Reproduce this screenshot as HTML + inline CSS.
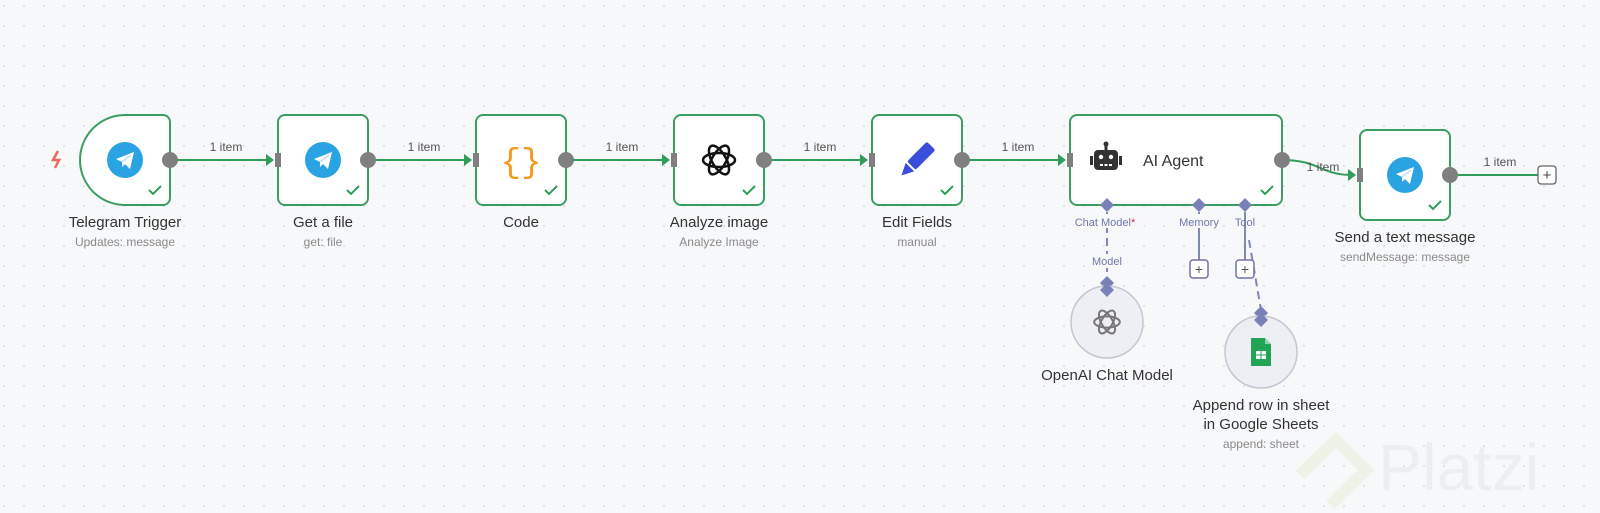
<!DOCTYPE html>
<html><head><meta charset="utf-8"><style>
html,body{margin:0;padding:0;width:1600px;height:513px;overflow:hidden;background:#f7f8fa}
svg{display:block;font-family:"Liberation Sans",sans-serif}
</style></head><body>
<svg width="1600" height="513" viewBox="0 0 1600 513" xmlns="http://www.w3.org/2000/svg">
<defs>
<pattern id="dots" width="20" height="20" patternUnits="userSpaceOnUse" x="3" y="5"><circle cx="1" cy="1" r="0.9" fill="#cfd2d8"/></pattern>
<g id="tg"><circle r="18" fill="#2aa3e2"/><path d="M-9,-1 L9,-8 L5,9 L0,4 L-3,7 L-3,2 Z" fill="#fff"/><path d="M-3,2 L6,-5" stroke="#bfe0f3" stroke-width="1.5"/></g>
<g id="chk"><path d="M-6,0 L-2,4 L6,-4" fill="none" stroke="#2f9e5b" stroke-width="2"/></g>
<g id="oai" fill="none" stroke-width="2.5"><ellipse rx="16" ry="7"/><ellipse rx="16" ry="7" transform="rotate(60)"/><ellipse rx="16" ry="7" transform="rotate(120)"/></g>
</defs>
<rect width="1600" height="513" fill="url(#dots)"/>

<!-- Platzi watermark -->
<g>
<path d="M1300,475 L1336,440 L1366,470 L1330,505" fill="none" stroke="#eef3e8" stroke-width="12"/>
<text x="1378" y="490" font-size="66" fill="#eceef1">Platzi</text>
</g>

<!-- connections -->
<g stroke="#2f9e5b" stroke-width="2" fill="none">
<path d="M170,160 H270"/><path d="M368,160 H468"/><path d="M566,160 H666"/><path d="M764,160 H864"/><path d="M962,160 H1062"/>
<path d="M1282,160 C1320,160 1320,175 1352,175"/><path d="M1450,175 H1538"/>
</g>
<g fill="#2f9e5b">
<path d="M266,154 L274,160 L266,166Z"/><path d="M464,154 L472,160 L464,166Z"/><path d="M662,154 L670,160 L662,166Z"/><path d="M860,154 L868,160 L860,166Z"/><path d="M1058,154 L1066,160 L1058,166Z"/><path d="M1348,169 L1356,175 L1348,181Z"/>
</g>
<g font-size="12" fill="#555" text-anchor="middle">
<text x="226" y="151">1 item</text><text x="424" y="151">1 item</text><text x="622" y="151">1 item</text><text x="820" y="151">1 item</text><text x="1018" y="151">1 item</text><text x="1323" y="171">1 item</text><text x="1500" y="166">1 item</text>
</g>
<rect x="1538" y="166" width="18" height="18" rx="3" fill="#fff" stroke="#666" stroke-width="1.3"/>
<text x="1547" y="180" font-size="15" text-anchor="middle" fill="#444">+</text>

<!-- nodes -->
<g fill="#fff" stroke="#3a9d63" stroke-width="2">
<path d="M125,115 H163 a7,7 0 0 1 7,7 V198 a7,7 0 0 1 -7,7 H125 a45,45 0 0 1 -45,-45 a45,45 0 0 1 45,-45Z"/>
<rect x="278" y="115" width="90" height="90" rx="7"/>
<rect x="476" y="115" width="90" height="90" rx="7"/>
<rect x="674" y="115" width="90" height="90" rx="7"/>
<rect x="872" y="115" width="90" height="90" rx="7"/>
<rect x="1070" y="115" width="212" height="90" rx="7"/>
<rect x="1360" y="130" width="90" height="90" rx="7"/>
</g>
<!-- handles -->
<g fill="#808080">
<circle cx="170" cy="160" r="8"/><circle cx="368" cy="160" r="8"/><circle cx="566" cy="160" r="8"/><circle cx="764" cy="160" r="8"/><circle cx="962" cy="160" r="8"/><circle cx="1282" cy="160" r="8"/><circle cx="1450" cy="175" r="8"/>
<rect x="275" y="153" width="6" height="14"/><rect x="473" y="153" width="6" height="14"/><rect x="671" y="153" width="6" height="14"/><rect x="869" y="153" width="6" height="14"/><rect x="1067" y="153" width="6" height="14"/><rect x="1357" y="168" width="6" height="14"/>
</g>
<g transform="translate(155,190)"><use href="#chk"/></g>
<g transform="translate(353,190)"><use href="#chk"/></g>
<g transform="translate(551,190)"><use href="#chk"/></g>
<g transform="translate(749,190)"><use href="#chk"/></g>
<g transform="translate(947,190)"><use href="#chk"/></g>
<g transform="translate(1267,190)"><use href="#chk"/></g>
<g transform="translate(1435,205)"><use href="#chk"/></g>

<!-- icons -->
<path d="M58,151 L53,160 H59 L55,168" fill="none" stroke="#f0655a" stroke-width="2.5"/>
<use href="#tg" x="125" y="160"/>
<use href="#tg" x="323" y="160"/>
<use href="#tg" x="1405" y="175"/>
<text x="521" y="172" font-size="34" fill="#f29a1f" text-anchor="middle" font-family="Liberation Mono,monospace">{}</text>
<g transform="translate(719,160)" stroke="#111"><use href="#oai"/></g>
<g transform="translate(917,160) rotate(45)"><rect x="-6" y="-20" width="12" height="28" rx="2" fill="#3a4ddb"/><path d="M-6,10 L6,10 L0,22Z" fill="#3a4ddb"/></g>
<g transform="translate(1106,160)" fill="#333"><rect x="-12" y="-10" width="24" height="20" rx="4"/><rect x="-16" y="-4" width="3" height="9"/><rect x="13" y="-4" width="3" height="9"/><rect x="-1.5" y="-16" width="3" height="6"/><circle cy="-16" r="2.5"/><g fill="#fff"><circle cx="-5" cy="-3" r="2.2"/><circle cx="5" cy="-3" r="2.2"/><rect x="-6" y="4" width="3" height="2"/><rect x="-1.5" y="4" width="3" height="2"/><rect x="3" y="4" width="3" height="2"/></g></g>
<text x="1143" y="166" font-size="16" fill="#333">AI Agent</text>

<!-- labels -->
<g text-anchor="middle">
<g font-size="15" fill="#333">
<text x="125" y="227">Telegram Trigger</text><text x="323" y="227">Get a file</text><text x="521" y="227">Code</text><text x="719" y="227">Analyze image</text><text x="917" y="227">Edit Fields</text><text x="1405" y="242">Send a text message</text>
<text x="1107" y="380">OpenAI Chat Model</text><text x="1261" y="410">Append row in sheet</text><text x="1261" y="429">in Google Sheets</text>
</g>
<g font-size="12" fill="#8a8a8a">
<text x="125" y="246">Updates: message</text><text x="323" y="246">get: file</text><text x="719" y="246">Analyze Image</text><text x="917" y="246">manual</text><text x="1405" y="261">sendMessage: message</text><text x="1261" y="448">append: sheet</text>
</g>
</g>

<!-- sub-connections -->
<g stroke="#8088b8" stroke-width="2" fill="none">
<path d="M1107,212 V276" stroke-dasharray="8,5"/>
<path d="M1199,212 V260"/><path d="M1245,212 V260"/>
<path d="M1249,240 L1261,310" stroke-dasharray="8,5"/>
</g>
<g fill="#7a80b8">
<path d="M1107,198 l7,7 l-7,7 l-7,-7Z"/><path d="M1199,198 l7,7 l-7,7 l-7,-7Z"/><path d="M1245,198 l7,7 l-7,7 l-7,-7Z"/>
<path d="M1107,276 l7,7 l-7,7 l-7,-7Z"/><path d="M1261,306 l7,7 l-7,7 l-7,-7Z"/>
</g>
<g font-size="11" fill="#7078a8" text-anchor="middle">
<rect x="1072" y="214" width="72" height="14" fill="#f7f8fa"/>
<text x="1105" y="226">Chat Model<tspan fill="#e0245e">*</tspan></text>
<rect x="1176" y="214" width="46" height="14" fill="#f7f8fa"/>
<text x="1199" y="226">Memory</text><text x="1245" y="226">Tool</text>
<rect x="1088" y="254" width="38" height="14" fill="#f7f8fa"/>
<text x="1107" y="265">Model</text>
</g>
<g fill="#fff" stroke="#6e74a8" stroke-width="1.5">
<rect x="1190" y="260" width="18" height="18" rx="3"/><rect x="1236" y="260" width="18" height="18" rx="3"/>
</g>
<g font-size="14" fill="#555" text-anchor="middle"><text x="1199" y="274">+</text><text x="1245" y="274">+</text></g>

<g fill="#eeeff5" stroke="#c4c6d0" stroke-width="1.5">
<circle cx="1107" cy="322" r="36"/><circle cx="1261" cy="352" r="36"/>
</g>
<path d="M1107,283 l7,7 l-7,7 l-7,-7Z" fill="#7a80b8"/>
<path d="M1261,313 l7,7 l-7,7 l-7,-7Z" fill="#7a80b8"/>
<g transform="translate(1107,322) scale(0.8)" stroke="#777"><use href="#oai"/></g>
<g transform="translate(1261,352)"><path d="M-10,-14 H4 L10,-8 V14 H-10Z" fill="#23a455"/><path d="M4,-14 V-8 H10" fill="#8fd4a8"/><rect x="-5" y="-1" width="10" height="8" fill="#fff"/><path d="M-5,3 H5 M0,-1 V7" stroke="#23a455" stroke-width="1"/></g>
</svg>
</body></html>
